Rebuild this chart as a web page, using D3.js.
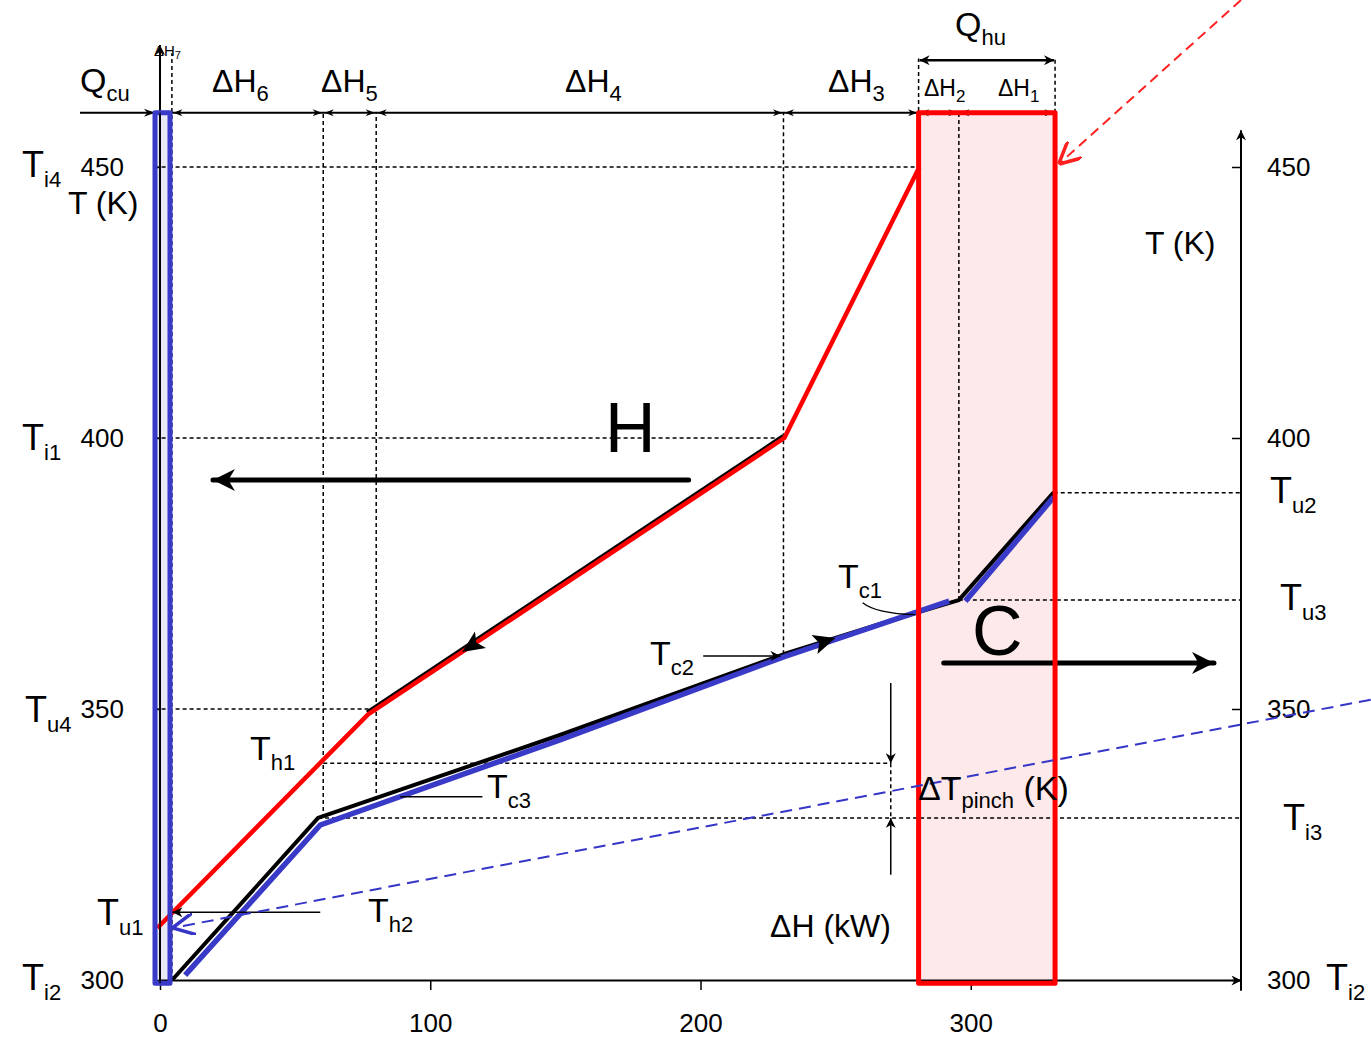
<!DOCTYPE html>
<html>
<head>
<meta charset="utf-8">
<script src="https://cdn.jsdelivr.net/npm/d3@7"></script>
<style>
  body { margin: 0; background: #fff; }
  text { fill: #000; }
</style>
</head>
<body>
<script>

// ejes
var dhTicks = [0, 100, 200, 300],
	tTicks = [300, 350, 400, 450];

// curva compuesta caliente (dH kW, T K)
var hotComposite = [[-1, 309.6], [77, 349], [231, 400], [281, 450]];

// curva compuesta fria (linea negra) y su copia azul desplazada
var coldComposite = [[4.5, 300], [58.5, 329.9], [148, 345.2], [230.7, 360.1], [280.7, 367.9], [295.6, 370.1], [330.7, 390]];
var coldShiftA = [[9.3, 300.9], [59.3, 328.6], [148, 344.3], [230.7, 359.6], [292, 369.9]];
var coldShiftB = [[298, 369.9], [330.7, 389.1]];

// limites de los intervalos dH7..dH1 en la linea superior
var intervalBounds = [4.4, 60.4, 80, 230.7, 280.7, 295.6, 331.2];

// lineas de puntos verticales: [dH, T abajo, T arriba]
var vGuides = [[4.4, 300, 471], [60.4, 329.9, 460], [80, 333.2, 460], [230.7, 360.1, 460],
	[280.7, 450, 470], [295.6, 370.1, 460], [331.2, 460, 470]];

// lineas de puntos horizontales: [T, dH desde, dH hasta]
var hGuides = [[450, -2, 280.7], [400, -2, 230.7], [350, -2, 80], [340, 60.4, 270.4],
	[329.9, 58.5, 400], [370.1, 295.6, 400], [389.9, 330.7, 400]];

// utilidades frias y calientes (cajas)
var coldUtilityBox = [-1.85, 3.7],
	hotUtilityBox = [280.7, 331.2],
	boxT = [299.4, 460];

var pinchDH = 270.4,
	pinchT = [340, 329.9];

var W = 1371, H = 1038;

var x = d3.scaleLinear().domain([0, 400]).range([160, 1241]),
	y = d3.scaleLinear().domain([300, 450]).range([980, 167]);

var svg = d3.select('body').append('svg')
	.attr('width', W)
	.attr('height', H)
	.style('font-family', '"Liberation Sans", Arial, sans-serif');

var defs = svg.append('defs');

function addMarker(id, color, open, w, h) {
	var m = defs.append('marker')
		.attr('id', id)
		.attr('viewBox', '0 0 10 10')
		.attr('refX', 10).attr('refY', 5)
		.attr('markerWidth', w).attr('markerHeight', h)
		.attr('markerUnits', 'userSpaceOnUse')
		.attr('orient', 'auto-start-reverse');
	if (open)
		m.append('path').attr('d', 'M0,0 L10,5 L0,10').attr('fill', 'none').attr('stroke', color).attr('stroke-width', 1.6);
	else
		m.append('path').attr('d', 'M0,0 L10,5 L0,10 L3,5 z').attr('fill', color);
}
addMarker('tri', '#000', false, 12, 10);
addMarker('triBig', '#000', false, 26, 22);
addMarker('openBlue', '#3535c8', true, 22, 22);
addMarker('openRed', '#ff2020', true, 22, 22);

var line = d3.line().x(function (d) { return x(d[0]) }).y(function (d) { return y(d[1]) });

// caja utilidad caliente (relleno)
svg.append('rect')
	.attr('x', x(hotUtilityBox[0]))
	.attr('y', y(boxT[1]))
	.attr('width', x(hotUtilityBox[1]) - x(hotUtilityBox[0]))
	.attr('height', y(boxT[0]) - y(boxT[1]))
	.attr('fill', '#fde9e9');

// caja utilidad fria
svg.append('rect')
	.attr('x', x(coldUtilityBox[0]))
	.attr('y', y(boxT[1]))
	.attr('width', x(coldUtilityBox[1]) - x(coldUtilityBox[0]))
	.attr('height', y(boxT[0]) - y(boxT[1]))
	.attr('fill', '#e9e9f6');

// guias
var dash = '4,3';
svg.selectAll('.vguide').data(vGuides).enter().append('line')
	.attr('class', 'vguide')
	.attr('x1', function (d) { return x(d[0]) }).attr('x2', function (d) { return x(d[0]) })
	.attr('y1', function (d) { return y(d[1]) }).attr('y2', function (d) { return y(d[2]) })
	.attr('stroke', '#000').attr('stroke-width', 1.5).attr('stroke-dasharray', dash);

svg.selectAll('.hguide').data(hGuides).enter().append('line')
	.attr('class', 'hguide')
	.attr('x1', function (d) { return x(d[1]) }).attr('x2', function (d) { return x(d[2]) })
	.attr('y1', function (d) { return y(d[0]) }).attr('y2', function (d) { return y(d[0]) })
	.attr('stroke', '#000').attr('stroke-width', 1.5).attr('stroke-dasharray', dash);

// eje x
var xAxis = svg.append('g')
	.attr('transform', 'translate(0,' + y(300) + ')')
	.call(d3.axisBottom(x).tickValues(dhTicks).tickSize(10).tickSizeOuter(0).tickPadding(24));
xAxis.select('.domain').attr('stroke-width', 2).attr('marker-end', 'url(#tri)');
xAxis.selectAll('.tick line').attr('stroke-width', 1.5);
xAxis.selectAll('text').style('font-size', '26px').style('font-family', '"Liberation Sans", Arial, sans-serif');

// eje y izquierdo
var yAxisL = svg.append('g')
	.attr('transform', 'translate(' + x(0) + ',0)')
	.call(d3.axisLeft(y).tickValues(tTicks).tickSize(6).tickSizeOuter(0).tickPadding(30));
yAxisL.select('.domain').remove();
yAxisL.selectAll('.tick line').attr('stroke-width', 1.5);
yAxisL.selectAll('text').style('font-size', '26px').style('font-family', '"Liberation Sans", Arial, sans-serif');
svg.append('line')
	.attr('x1', x(0)).attr('x2', x(0))
	.attr('y1', y(299.4)).attr('y2', y(472.5))
	.attr('stroke', '#000').attr('stroke-width', 2)
	.attr('marker-end', 'url(#tri)');

// eje y derecho
var yAxisR = svg.append('g')
	.attr('transform', 'translate(' + x(400) + ',0)')
	.call(d3.axisRight(y).tickValues(tTicks).tickSize(-9).tickSizeOuter(0).tickPadding(26));
yAxisR.select('.domain').remove();
yAxisR.selectAll('.tick line').attr('stroke-width', 1.5);
yAxisR.selectAll('text').style('font-size', '26px').style('font-family', '"Liberation Sans", Arial, sans-serif');
svg.append('line')
	.attr('x1', x(400)).attr('x2', x(400))
	.attr('y1', y(298)).attr('y2', y(456.8))
	.attr('stroke', '#000').attr('stroke-width', 2)
	.attr('marker-end', 'url(#tri)');

// linea superior de cotas
var topY = y(460);
svg.append('line')
	.attr('x1', x(-29.6)).attr('x2', x(intervalBounds[intervalBounds.length - 1]))
	.attr('y1', topY).attr('y2', topY)
	.attr('stroke', '#000').attr('stroke-width', 2);

function headAt(px, py, dir, len, hw) {
	svg.append('path')
		.attr('d', 'M' + px + ',' + py + ' l' + (-dir * len) + ',' + (-hw) + ' l' + (dir * len * 0.3) + ',' + hw + ' l' + (-dir * len * 0.3) + ',' + hw + ' z')
		.attr('fill', '#000');
}
headAt(x(-1.85), topY, 1, 11, 4);
intervalBounds.forEach(function (b, i) {
	if (i > 0) headAt(x(b) - 1.5, topY, 1, 9, 3.5);
	if (i < intervalBounds.length - 1) headAt(x(b) + 1.5, topY, -1, 9, 3.5);
});

// Qhu doble flecha
svg.append('line')
	.attr('x1', x(hotUtilityBox[0]) + 1).attr('x2', x(hotUtilityBox[1]) - 1)
	.attr('y1', y(469.7)).attr('y2', y(469.7))
	.attr('stroke', '#000').attr('stroke-width', 2.5)
	.attr('marker-start', 'url(#tri)').attr('marker-end', 'url(#tri)');

// curva fria (negra + azul)
svg.append('path').datum(coldComposite)
	.attr('d', line).attr('fill', 'none')
	.attr('stroke', '#000').attr('stroke-width', 4).attr('stroke-linejoin', 'round');
[coldShiftA, coldShiftB].forEach(function (s) {
	svg.append('path').datum(s)
		.attr('d', line).attr('fill', 'none')
		.attr('stroke', '#3a3ac8').attr('stroke-width', 5.5);
});

// curva caliente: sombra negra y roja
svg.append('path').datum(hotComposite.slice(1, 3))
	.attr('d', line).attr('fill', 'none')
	.attr('transform', 'translate(-1,-2)')
	.attr('stroke', '#000').attr('stroke-width', 4);
svg.append('path').datum(hotComposite)
	.attr('d', line).attr('fill', 'none')
	.attr('stroke', '#ff0000').attr('stroke-width', 4.5).attr('stroke-linejoin', 'round');

// flechas de direccion sobre las curvas
function curveArrow(a, b, f, reverse) {
	var px = x(a[0] + (b[0] - a[0]) * f), py = y(a[1] + (b[1] - a[1]) * f);
	var ang = Math.atan2(y(b[1]) - y(a[1]), x(b[0]) - x(a[0])) * 180 / Math.PI + (reverse ? 180 : 0);
	svg.append('path')
		.attr('d', 'M12,0 L-10,-10 L-5,0 L-10,10 z')
		.attr('transform', 'translate(' + px + ',' + py + ') rotate(' + ang + ')')
		.attr('fill', '#000');
}
curveArrow(hotComposite[1], hotComposite[2], 0.25, true);
curveArrow(coldComposite[3], coldComposite[4], 0.3, false);

// cajas (bordes)
svg.append('rect')
	.attr('x', x(coldUtilityBox[0]))
	.attr('y', y(boxT[1]))
	.attr('width', x(coldUtilityBox[1]) - x(coldUtilityBox[0]))
	.attr('height', y(boxT[0]) - y(boxT[1]))
	.attr('fill', 'none').attr('stroke', '#3a3ac8').attr('stroke-width', 5).attr('stroke-linejoin', 'round');
svg.append('line')
	.attr('x1', x(0)).attr('x2', x(0)).attr('y1', y(299.4)).attr('y2', y(460))
	.attr('stroke', '#000').attr('stroke-width', 1.5);

// flechas H y C
svg.append('line')
	.attr('x1', x(195.6)).attr('x2', x(19.6))
	.attr('y1', y(392.25)).attr('y2', y(392.25))
	.attr('stroke', '#000').attr('stroke-width', 5).attr('stroke-linecap', 'round')
	.attr('marker-end', 'url(#triBig)');
svg.append('line')
	.attr('x1', x(290)).attr('x2', x(390))
	.attr('y1', y(358.5)).attr('y2', y(358.5))
	.attr('stroke', '#000').attr('stroke-width', 5).attr('stroke-linecap', 'round')
	.attr('marker-end', 'url(#triBig)');

svg.append('rect')
	.attr('x', x(hotUtilityBox[0]))
	.attr('y', y(boxT[1]))
	.attr('width', x(hotUtilityBox[1]) - x(hotUtilityBox[0]))
	.attr('height', y(boxT[0]) - y(boxT[1]))
	.attr('fill', 'none').attr('stroke', '#ff0000').attr('stroke-width', 5).attr('stroke-linejoin', 'round');

// dT pinch
svg.append('line')
	.attr('x1', x(pinchDH)).attr('x2', x(pinchDH))
	.attr('y1', y(354.8)).attr('y2', y(pinchT[0]))
	.attr('stroke', '#000').attr('stroke-width', 1.5).attr('marker-end', 'url(#tri)');
svg.append('line')
	.attr('x1', x(pinchDH)).attr('x2', x(pinchDH))
	.attr('y1', y(pinchT[0])).attr('y2', y(pinchT[1]))
	.attr('stroke', '#000').attr('stroke-width', 1.5).attr('stroke-dasharray', dash);
svg.append('line')
	.attr('x1', x(pinchDH)).attr('x2', x(pinchDH))
	.attr('y1', y(319.4)).attr('y2', y(pinchT[1]))
	.attr('stroke', '#000').attr('stroke-width', 1.5).attr('marker-end', 'url(#tri)');

// lineas guia de las etiquetas
function leader(dh0, dh1, t, arrow) {
	var l = svg.append('line')
		.attr('x1', x(dh0)).attr('x2', x(dh1))
		.attr('y1', y(t)).attr('y2', y(t))
		.attr('stroke', '#000').attr('stroke-width', 1.5);
	if (arrow) l.attr('marker-end', 'url(#tri)');
}
leader(59.3, 4.6, 312.5, true);
leader(88.9, 119.3, 333.8, false);
leader(201, 229.6, 359.8, true);
svg.append('path')
	.attr('d', 'M' + x(260) + ',' + y(369.6) + ' Q' + x(265) + ',' + y(367.6) + ' ' + x(279.5) + ',' + y(367.4))
	.attr('fill', 'none').attr('stroke', '#000').attr('stroke-width', 1.3);

// flechas discontinuas
svg.append('line')
	.attr('x1', x(448)).attr('x2', x(4.6))
	.attr('y1', y(351.7)).attr('y2', y(309.6))
	.attr('stroke', '#3535c8').attr('stroke-width', 2).attr('stroke-dasharray', '12,7')
	.attr('marker-end', 'url(#openBlue)');
svg.append('line')
	.attr('x1', x(400)).attr('x2', x(332.5))
	.attr('y1', y(480.8)).attr('y2', y(450.5))
	.attr('stroke', '#ff2020').attr('stroke-width', 2).attr('stroke-dasharray', '10,6')
	.attr('marker-end', 'url(#openRed)');

// etiquetas
function label(px, py, main, sub, size, subSize, drop) {
	var t = svg.append('text').attr('x', px).attr('y', py).style('font-size', size + 'px');
	t.append('tspan').text(main);
	if (sub) t.append('tspan').attr('dy', drop).style('font-size', subSize + 'px').text(sub);
	return t;
}

label(80, 92, 'Q', 'cu', 34, 22, 9);
label(154, 56, '\u0394H', '7', 15, 11, 3);
label(212, 92, '\u0394H', '6', 32, 22, 9);
label(321, 92, '\u0394H', '5', 32, 22, 9);
label(565, 92, '\u0394H', '4', 32, 22, 9);
label(828, 92, '\u0394H', '3', 32, 22, 9);
label(955, 36, 'Q', 'hu', 34, 22, 9);
label(924, 96, '\u0394H', '2', 23, 17, 6);
label(998, 96, '\u0394H', '1', 23, 17, 6);

label(22, 177, 'T', 'i4', 36, 22, 10);
label(68, 214, 'T (K)', null, 32);
label(22, 450, 'T', 'i1', 36, 22, 10);
label(25, 722, 'T', 'u4', 36, 22, 10);
label(97, 925, 'T', 'u1', 36, 22, 10);
label(22, 990, 'T', 'i2', 36, 22, 10);

label(1145, 254, 'T (K)', null, 32);
label(1270, 503, 'T', 'u2', 36, 22, 10);
label(1280, 610, 'T', 'u3', 36, 22, 10);
label(1283, 830, 'T', 'i3', 36, 22, 10);
label(1326, 990, 'T', 'i2', 36, 22, 10);

label(605, 452, 'H', null, 70);
label(972, 655, 'C', null, 70);

label(250, 760, 'T', 'h1', 34, 22, 10);
label(368, 922, 'T', 'h2', 34, 22, 10);
label(487, 798, 'T', 'c3', 34, 22, 10);
label(650, 665, 'T', 'c2', 34, 22, 10);
label(838, 588, 'T', 'c1', 34, 22, 10);

var pt = label(918, 800, '\u0394T', 'pinch', 34, 22, 8);
pt.append('tspan').attr('dy', -8).style('font-size', '34px').text(' (K)');

label(770, 937, '\u0394H (kW)', null, 32);

</script>
</body>
</html>
